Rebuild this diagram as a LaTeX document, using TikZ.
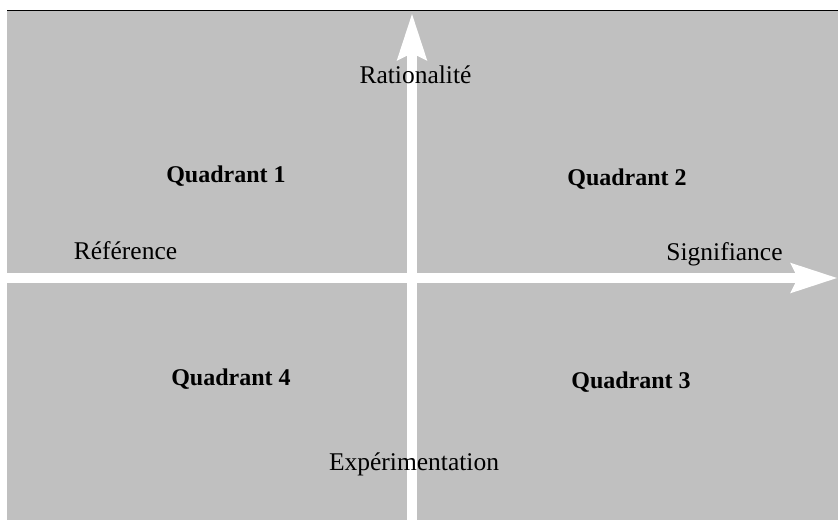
\documentclass[tikz,border=0pt]{standalone}
\usepackage{fontspec}
\setmainfont{Liberation Serif}
\usetikzlibrary{arrows.meta}
\definecolor{quadgray}{RGB}{192,192,192}
\tikzstyle{quadname} = [font=\fontsize{24}{28}\selectfont\bfseries, anchor=base]
\tikzstyle{axisname} = [font=\fontsize{25.5}{30}\selectfont, anchor=base]
\tikzstyle{axis} = [draw=white, line width=10pt, -{Stealth[length=46pt, width=28pt, inset=6pt]}]

\begin{document}
\begin{tikzpicture}[x=1pt, y=-1pt]

    \useasboundingbox (0,0) rectangle (838,520);
    \fill[quadgray] (7,11) rectangle (838,520);
    \draw[line width=1.5pt] (7,10.5) -- (838,10.5);

    % Axis ends
    \coordinate (west) at (7,278);
    \coordinate (east) at (838,278);
    \coordinate (south) at (412,520);
    \coordinate (north) at (412,13);

    % Arrows
    \draw [axis] (west) -- (east);
    \draw [axis] (south) -- (north);

    % Nodes
    \node (rationalite) [axisname] at (415.5,83) {Rationalité};
    \node (reference) [axisname] at (125.5,259) {Référence};
    \node (signifiance) [axisname] at (724.5,260) {Signifiance};
    \node (experimentation) [axisname] at (414,470) {Expérimentation};

    \node (quad1) [quadname] at (226,182) {Quadrant 1};
    \node (quad2) [quadname] at (627,185) {Quadrant 2};
    \node (quad4) [quadname] at (231,385) {Quadrant 4};
    \node (quad3) [quadname] at (631,388) {Quadrant 3};

\end{tikzpicture}
\end{document}
